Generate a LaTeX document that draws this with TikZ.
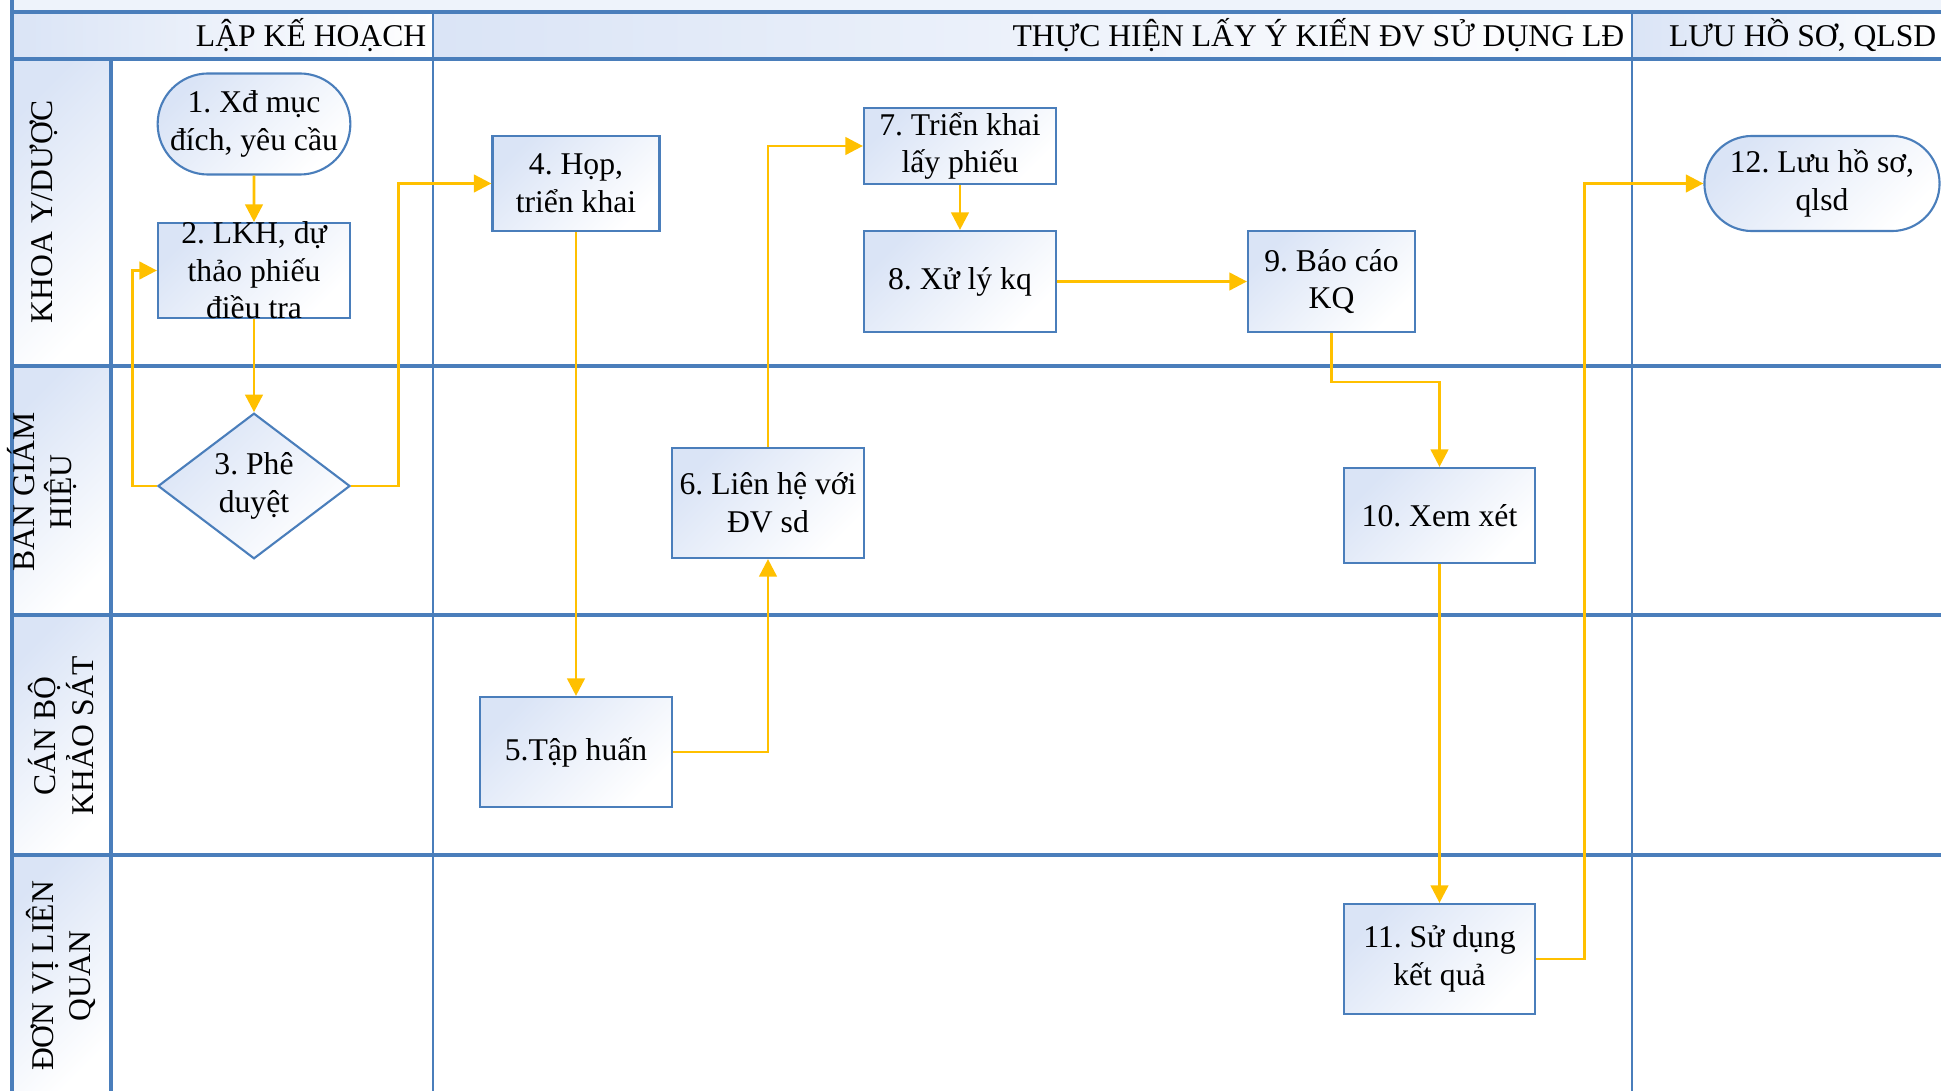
\documentclass[tikz,border=0pt]{standalone}
\usepackage{fontspec}
\setmainfont{Liberation Serif}
\frenchspacing
\usetikzlibrary{shapes, arrows.meta}
\definecolor{laneblue}{RGB}{74,126,187}
\definecolor{cellblue}{RGB}{218,228,246}
\definecolor{flowgold}{RGB}{255,192,0}
\tikzstyle{pcell} = [rectangle, draw=laneblue, line width=0.6pt, left color=cellblue, right color=white, shading angle=45, text centered, align=center, inner sep=0pt, font=\fontsize{9}{10.7}\selectfont]
\tikzstyle{tcell} = [pcell, rounded rectangle]
\tikzstyle{qcell} = [pcell, diamond]
\tikzstyle{txt} = [align=center, font=\fontsize{9}{10.7}\selectfont]
\tikzstyle{head} = [txt, anchor=east, inner sep=0pt]
\tikzstyle{who} = [txt, rotate=90]
\tikzstyle{lane} = [draw=laneblue, line width=0.9pt]
\tikzstyle{line} = [draw=flowgold, line width=0.8pt, -{Triangle[length=5pt, width=5pt]}]

\begin{document}
\begin{tikzpicture}[x=0.01cm, y=-0.01cm]
    \useasboundingbox (0,0) rectangle (1941,1091);
    \fill[cellblue!45] (12,0) rectangle (1941,12);
    \shade[left color=cellblue, right color=white] (12,12) rectangle (433,59);
    \shade[left color=cellblue, right color=white] (433,12) rectangle (1632,59);
    \shade[left color=cellblue, right color=white] (1632,12) rectangle (1941,59);
    \foreach \ya/\yb in {59/366, 366/615, 615/855, 855/1091}
        \shade[left color=cellblue, right color=white, shading angle=45] (12,\ya) rectangle (111,\yb);

    \foreach \y in {12, 59, 366, 615, 855}
        \draw[lane] (12,\y) -- (1941,\y);
    \draw[lane] (12,0) -- (12,1091);
    \draw[lane] (111,59) -- (111,1091);
    \foreach \x in {433, 1632}
        \draw[lane, line width=0.6pt] (\x,12) -- (\x,1091);

    \node[head] (plan) at (427,35) {LẬP KẾ HOẠCH};
    \node[head] (doing) at (1625,35) {THỰC HIỆN LẤY Ý KIẾN ĐV SỬ DỤNG LĐ};
    \node[head] (store) at (1937,35) {LƯU HỒ SƠ, QLSD};

    \node[who] (khoa) at (44,212) {KHOA Y/DƯỢC};
    \node[who] (bgh) at (42,492) {BAN GIÁM\\HIỆU};
    \node[who] (cbks) at (61,736) {CÁN BỘ\\KHẢO SÁT};
    \node[who] (dvlq) at (61,976) {ĐƠN VỊ LIÊN\\QUAN};

    \node[tcell, minimum width=1.92cm, minimum height=1.01cm] (xacdinh) at (254,124) {1. Xđ mục\\đích, yêu cầu};
    \node[pcell, minimum width=1.92cm, minimum height=0.95cm, label={[txt]center:2. LKH, dự\\thảo phiếu\\điều tra}] (lapkh) at (254,270.5) {};
    \node[qcell, minimum width=1.92cm, minimum height=1.44cm] (pheduyet) at (254,486) {3. Phê\\duyệt};
    \node[pcell, minimum width=1.67cm, minimum height=0.95cm] (hop) at (576,183.5) {4. Họp,\\triển khai};
    \node[pcell, minimum width=1.92cm, minimum height=1.10cm] (taphuan) at (576,752) {5.Tập huấn};
    \node[pcell, minimum width=1.92cm, minimum height=1.10cm] (lienhe) at (768,503) {6. Liên hệ với\\ĐV sd};
    \node[pcell, minimum width=1.92cm, minimum height=0.76cm] (trienkhai) at (960,146) {7. Triển khai\\lấy phiếu};
    \node[pcell, minimum width=1.92cm, minimum height=1.01cm] (xuly) at (960,281.5) {8. Xử lý kq};
    \node[pcell, minimum width=1.67cm, minimum height=1.01cm] (baocao) at (1331.5,281.5) {9. Báo cáo\\KQ};
    \node[pcell, minimum width=1.91cm, minimum height=0.95cm] (xemxet) at (1439.5,515.5) {10. Xem xét};
    \node[pcell, minimum width=1.91cm, minimum height=1.10cm] (sudung) at (1439.5,959) {11. Sử dụng\\kết quả};
    \node[tcell, minimum width=2.35cm, minimum height=0.95cm] (luuhs) at (1822,183.5) {12. Lưu hồ sơ,\\qlsd};

    \path[line] (xacdinh) -- (lapkh);
    \path[line] (lapkh) -- (pheduyet);
    \path[line] (pheduyet.west) -- ++(-24,0) |- (lapkh.west);
    \path[line] (pheduyet.east) -- ++(47,0) |- (hop.west);
    \path[line] (hop) -- (taphuan);
    \path[line] (taphuan.east) -| (lienhe.south);
    \path[line] (lienhe.north) |- (trienkhai.west);
    \path[line] (trienkhai) -- (xuly);
    \path[line] (xuly) -- (baocao);
    \path[line] (baocao.south) -- ++(0,49) -| (xemxet.north);
    \path[line] (xemxet) -- (sudung);
    \path[line] (sudung.east) -- ++(48,0) |- (luuhs.west);
\end{tikzpicture}
\end{document}
